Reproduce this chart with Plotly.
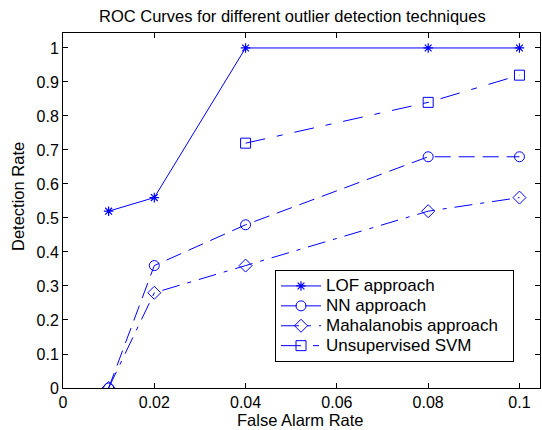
import plotly.graph_objects as go

lof_x = [0.01, 0.02, 0.04, 0.08, 0.1]
lof_y = [0.52, 0.56, 1.0, 1.0, 1.0]
nn_x = [0.01, 0.02, 0.04, 0.08, 0.1]
nn_y = [0.0, 0.36, 0.48, 0.68, 0.68]
mah_x = [0.01, 0.02, 0.04, 0.08, 0.1]
mah_y = [0.0, 0.28, 0.36, 0.52, 0.56]
svm_x = [0.04, 0.08, 0.1]
svm_y = [0.72, 0.84, 0.92]

series_names = ["LOF approach", "NN approach", "Mahalanobis approach", "Unsupervised SVM"]

x_ticks = [0, 0.02, 0.04, 0.06, 0.08, 0.1]
x_labels = ["0", "0.02", "0.04", "0.06", "0.08", "0.1"]
y_ticks = [0, 0.1, 0.2, 0.3, 0.4, 0.5, 0.6, 0.7, 0.8, 0.9, 1.0]
y_labels = ["0", "0.1", "0.2", "0.3", "0.4", "0.5", "0.6", "0.7", "0.8", "0.9", "1"]

title_text = "ROC Curves for different outlier detection techniques"
x_title = "False Alarm Rate"
y_title = "Detection Rate"

blue = "#0000ff"
FONT = "Liberation Sans, Arial, sans-serif"


def leg(name):
    return "<span style='font-size:17px'>" + name + "&nbsp;&nbsp;</span>"


fig = go.Figure()
fig.add_trace(go.Scatter(x=lof_x, y=lof_y, name=leg(series_names[0]), mode="lines+markers",
                         line=dict(color=blue, width=1),
                         marker=dict(symbol="asterisk-open", size=8, color=blue, line=dict(color=blue, width=1.2))))
fig.add_trace(go.Scatter(x=nn_x, y=nn_y, name=leg(series_names[1]), mode="lines+markers",
                         line=dict(color=blue, width=1, dash="16px,8px"),
                         marker=dict(symbol="circle-open", size=10, color=blue, line=dict(color=blue, width=1))))
fig.add_trace(go.Scatter(x=mah_x, y=mah_y, name=leg(series_names[2]), mode="lines+markers",
                         line=dict(color=blue, width=1, dash="18px,8px,4px,8px"),
                         marker=dict(symbol="diamond-open", size=10, color=blue, line=dict(color=blue, width=1))))
fig.add_trace(go.Scatter(x=svm_x, y=svm_y, name=leg(series_names[3]), mode="lines+markers",
                         line=dict(color=blue, width=1, dash="20px,12px,6px,12px"),
                         marker=dict(symbol="square-open", size=10, color=blue, line=dict(color=blue, width=1))))

axis_common = dict(showline=True, linecolor="black", linewidth=1, mirror="ticks",
                   ticks="inside", ticklen=5, tickcolor="black", showgrid=False, zeroline=False,
                   tickfont=dict(size=16, color="black", family=FONT))

plot_top, plot_bottom, plot_left, plot_right = 33, 388, 63, 540
ph = plot_bottom - plot_top
pw = plot_right - plot_left

fig.update_layout(
    width=542, height=430,
    margin=dict(l=plot_left, r=542 - plot_right, t=plot_top, b=430 - plot_bottom, autoexpand=False),
    paper_bgcolor="white", plot_bgcolor="white",
    font=dict(family=FONT, size=16, color="black"),
    xaxis=dict(range=[0, 0.1045], tickvals=x_ticks, ticktext=x_labels, **axis_common),
    yaxis=dict(range=[0, 1.044], tickvals=y_ticks, ticktext=y_labels, **axis_common),
    legend=dict(x=(275 - plot_left) / pw, y=(plot_bottom - 316) / ph, xanchor="left", yanchor="middle",
                bgcolor="white", bordercolor="black", borderwidth=1,
                font=dict(size=13, color="black", family=FONT),
                tracegroupgap=0, itemwidth=40),
    showlegend=True,
    annotations=[
        dict(text=title_text, xref="paper", yref="paper", x=(292 - plot_left) / pw,
             y=(plot_bottom - 16) / ph, xanchor="center", yanchor="middle", showarrow=False,
             font=dict(size=16.5, color="black", family=FONT)),
        dict(text=x_title, xref="paper", yref="paper", x=(300 - plot_left) / pw,
             y=(plot_bottom - 420) / ph, xanchor="center", yanchor="middle", showarrow=False,
             font=dict(size=16.5, color="black", family=FONT)),
        dict(text=y_title, xref="paper", yref="paper", x=(18 - plot_left) / pw,
             y=(plot_bottom - 197) / ph, xanchor="center", yanchor="middle", showarrow=False,
             textangle=-90, font=dict(size=16.5, color="black", family=FONT)),
    ],
)
fig.write_html("out.html", config={"displayModeBar": False},
               post_script="document.body.style.margin='0px';document.body.style.overflow='hidden';")
